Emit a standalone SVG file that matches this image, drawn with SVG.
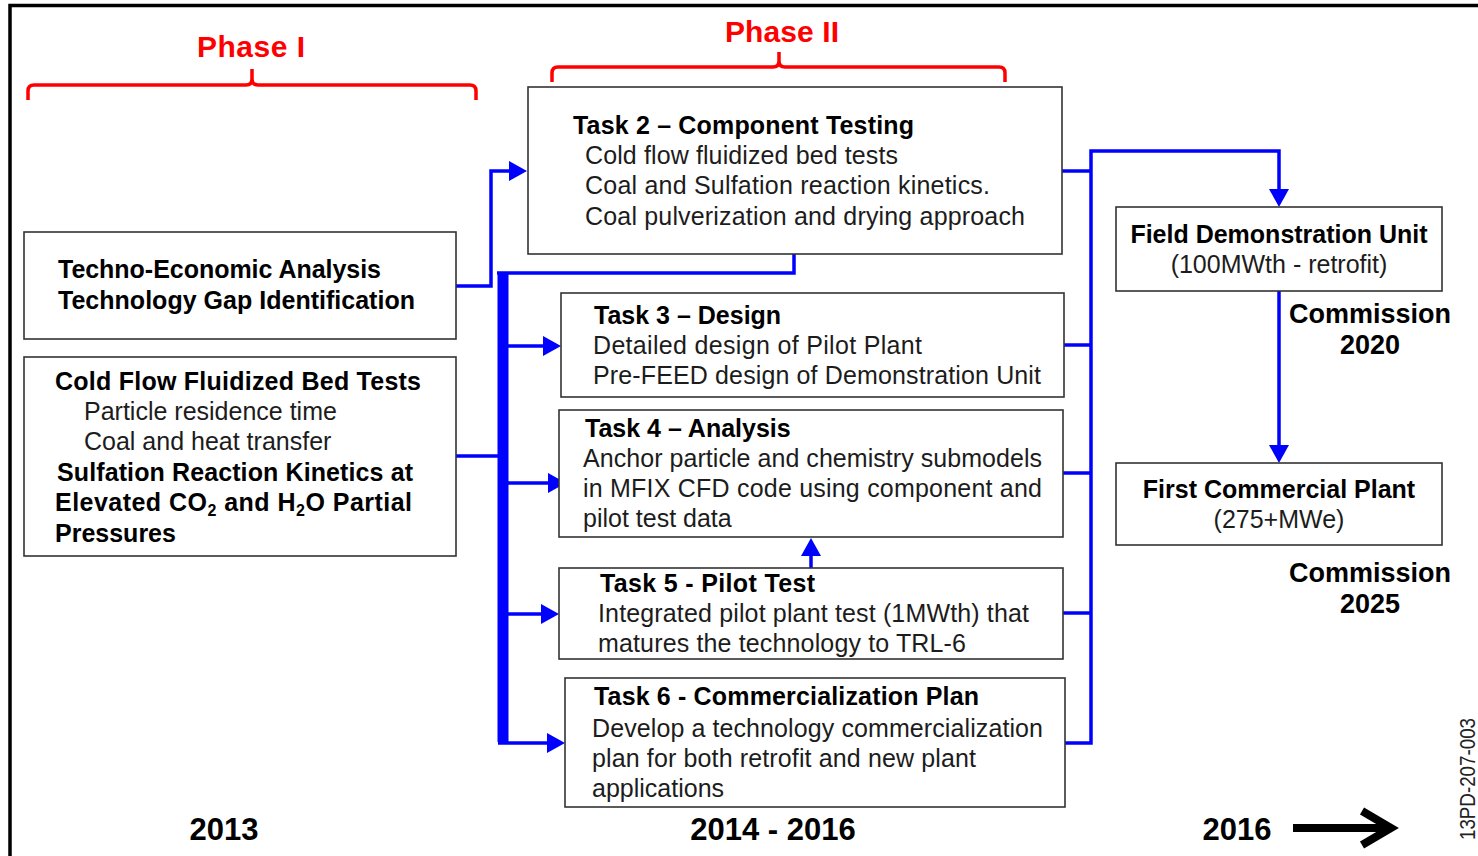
<svg xmlns="http://www.w3.org/2000/svg" width="1478" height="856" viewBox="0 0 1478 856">
<defs>
<style>
.bx{fill:#fff;stroke:#333;stroke-width:1.6}
.t{font-family:"Liberation Sans",Arial,sans-serif;font-size:25px;fill:#1c1c1c}
.b{font-family:"Liberation Sans",Arial,sans-serif;font-size:25px;font-weight:bold;fill:#000}
.c{font-family:"Liberation Sans",Arial,sans-serif;font-size:27px;font-weight:bold;fill:#000}
.y{font-family:"Liberation Sans",Arial,sans-serif;font-size:31px;font-weight:bold;fill:#000}
.ph{font-family:"Liberation Sans",Arial,sans-serif;font-size:30px;font-weight:bold;fill:#ff0000}
.ln{fill:none;stroke:#0000ff;stroke-width:3.5}
.br{fill:none;stroke:#ff0000;stroke-width:3.5}
</style>
<marker id="ah" viewBox="0 0 18 20" refX="4" refY="10" markerWidth="18" markerHeight="20" markerUnits="userSpaceOnUse" orient="auto">
<path d="M0,0 L18,10 L0,20 z" fill="#0000ff"/>
</marker>
</defs>
<rect width="1478" height="856" fill="#fff"/>
<path d="M10,856 V5.5 H1478" fill="none" stroke="#000" stroke-width="3.5"/>

<g id="phase1">
<text class="ph" x="197" y="57" textLength="108" lengthAdjust="spacing">Phase I</text>
<path class="br" d="M28,100 V91 Q28,85 34,85 H246 Q252,85 252,79 V69 M252,79 Q252,85 258,85 H470 Q476,85 476,91 V100"/>
</g>
<g id="phase2">
<text class="ph" x="725" y="42" textLength="114" lengthAdjust="spacing">Phase II</text>
<path class="br" d="M552,82 V73 Q552,67 558,67 H773 Q779,67 779,61 V52 M779,61 Q779,67 785,67 H999 Q1005,67 1005,73 V82"/>
</g>

<g id="connectors">
<path class="ln" d="M456,286 H491 V171 H513" marker-end="url(#ah)"/>
<path class="ln" d="M794,254 V273 H497"/>
<path d="M503,272 V742" stroke="#0000ff" stroke-width="11" fill="none"/>
<path class="ln" d="M456,456 H498"/>
<path class="ln" d="M508,346 H547" marker-end="url(#ah)"/>
<path class="ln" d="M508,483 H552" marker-end="url(#ah)"/>
<path class="ln" d="M508,614 H545" marker-end="url(#ah)"/>
<path class="ln" d="M498,743 H551" marker-end="url(#ah)"/>
<path class="ln" d="M811,568 V552" marker-end="url(#ah)"/>
<path class="ln" d="M1062,171 H1091"/>
<path class="ln" d="M1064,345 H1091"/>
<path class="ln" d="M1063,473 H1091"/>
<path class="ln" d="M1063,613 H1091"/>
<path class="ln" d="M1065,743 H1091 V151 H1279 V193" marker-end="url(#ah)"/>
<path class="ln" d="M1279,291 V449" marker-end="url(#ah)"/>
</g>

<g id="tea">
<rect class="bx" x="24" y="232" width="432" height="107"/>
<text class="b" x="58" y="278" textLength="323" lengthAdjust="spacing">Techno-Economic Analysis</text>
<text class="b" x="58" y="309" textLength="357" lengthAdjust="spacing">Technology Gap Identification</text>
</g>
<g id="coldflow">
<rect class="bx" x="24" y="357" width="432" height="199"/>
<text class="b" x="55" y="390" textLength="366" lengthAdjust="spacing">Cold Flow Fluidized Bed Tests</text>
<text class="t" x="84" y="420">Particle residence time</text>
<text class="t" x="84" y="450">Coal and heat transfer</text>
<text class="b" x="57" y="481" textLength="356" lengthAdjust="spacing">Sulfation Reaction Kinetics at</text>
<text class="b" x="55" y="511" textLength="357" lengthAdjust="spacing">Elevated CO<tspan font-size="16" dy="5">2</tspan><tspan dy="-5"> and H</tspan><tspan font-size="16" dy="5">2</tspan><tspan dy="-5">O Partial</tspan></text>
<text class="b" x="55" y="542">Pressures</text>
</g>
<g id="task2">
<rect class="bx" x="528" y="87" width="534" height="167"/>
<text class="b" x="573" y="134" textLength="341" lengthAdjust="spacing">Task 2 – Component Testing</text>
<text class="t" x="585" y="164" textLength="313" lengthAdjust="spacing">Cold flow fluidized bed tests</text>
<text class="t" x="585" y="194" textLength="405" lengthAdjust="spacing">Coal and Sulfation reaction kinetics.</text>
<text class="t" x="585" y="225" textLength="440" lengthAdjust="spacing">Coal pulverization and drying approach</text>
</g>
<g id="task3">
<rect class="bx" x="561" y="293" width="503" height="104"/>
<text class="b" x="594" y="324">Task 3 – Design</text>
<text class="t" x="593" y="354" textLength="329" lengthAdjust="spacing">Detailed design of Pilot Plant</text>
<text class="t" x="593" y="384" textLength="448" lengthAdjust="spacing">Pre-FEED design of Demonstration Unit</text>
</g>
<g id="task4">
<rect class="bx" x="559" y="410" width="504" height="127"/>
<text class="b" x="585" y="437">Task 4 – Analysis</text>
<text class="t" x="583" y="467" textLength="459" lengthAdjust="spacing">Anchor particle and chemistry submodels</text>
<text class="t" x="583" y="497" textLength="459" lengthAdjust="spacing">in MFIX CFD code using component and</text>
<text class="t" x="583" y="527">pilot test data</text>
</g>
<g id="task5">
<rect class="bx" x="559" y="568" width="504" height="91"/>
<text class="b" x="600" y="592" textLength="215" lengthAdjust="spacing">Task 5 - Pilot Test</text>
<text class="t" x="598" y="622" textLength="431" lengthAdjust="spacing">Integrated pilot plant test (1MWth) that</text>
<text class="t" x="598" y="652" textLength="368" lengthAdjust="spacing">matures the technology to TRL-6</text>
</g>
<g id="task6">
<rect class="bx" x="565" y="678" width="500" height="129"/>
<text class="b" x="594" y="705" textLength="385" lengthAdjust="spacing">Task 6 - Commercialization Plan</text>
<text class="t" x="592" y="737" textLength="451" lengthAdjust="spacing">Develop a technology commercialization</text>
<text class="t" x="592" y="767" textLength="384" lengthAdjust="spacing">plan for both retrofit and new plant</text>
<text class="t" x="592" y="797">applications</text>
</g>
<g id="fdu">
<rect class="bx" x="1116" y="207" width="326" height="84"/>
<text class="b" x="1279" y="243" text-anchor="middle">Field Demonstration Unit</text>
<text class="t" x="1279" y="273" text-anchor="middle">(100MWth - retrofit)</text>
</g>
<g id="fcp">
<rect class="bx" x="1116" y="463" width="326" height="82"/>
<text class="b" x="1279" y="498" text-anchor="middle">First Commercial Plant</text>
<text class="t" x="1279" y="528" text-anchor="middle">(275+MWe)</text>
</g>
<g id="labels">
<text class="c" x="1370" y="323" text-anchor="middle">Commission</text>
<text class="c" x="1370" y="354" text-anchor="middle">2020</text>
<text class="c" x="1370" y="582" text-anchor="middle">Commission</text>
<text class="c" x="1370" y="613" text-anchor="middle">2025</text>
<text class="y" x="224" y="840" text-anchor="middle">2013</text>
<text class="y" x="773" y="840" text-anchor="middle">2014 - 2016</text>
<text class="y" x="1237" y="840" text-anchor="middle">2016</text>
<path d="M1293,828 H1388" stroke="#000" stroke-width="8" fill="none"/>
<polyline points="1362,811 1391,828 1362,845" stroke="#000" stroke-width="8" fill="none" stroke-linejoin="miter"/>
<text transform="translate(1475,779) rotate(-90)" x="0" y="0" text-anchor="middle" font-family="'Liberation Sans',Arial,sans-serif" font-size="22" fill="#222" textLength="122" lengthAdjust="spacingAndGlyphs">13PD-207-003</text>
</g>
</svg>
